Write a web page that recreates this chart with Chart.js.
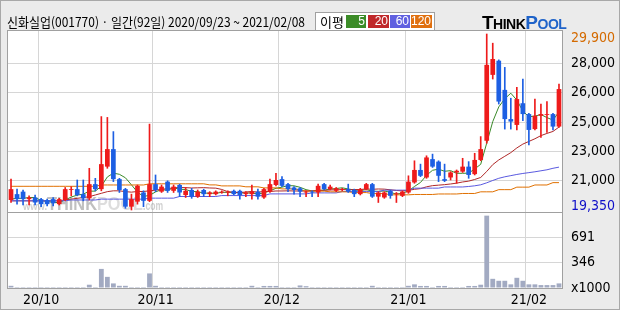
<!DOCTYPE html>
<html>
<head>
<meta charset="utf-8">
<script src="https://cdn.jsdelivr.net/npm/chart.js@4.4.0/dist/chart.umd.min.js"></script>
<style>
  html, body { margin: 0; padding: 0; }
  body { width: 620px; height: 310px; background: #ebebeb; position: relative; overflow: hidden;
         font-family: "Noto Sans CJK KR", sans-serif; }
  #frame { position: absolute; left: 0; top: 0; width: 618px; height: 308px; border: 1px solid #a8a8a8; pointer-events: none; }
  #chart { position: absolute; left: 0; top: 0; }
  #title { position: absolute; left: 7px; top: 14px; font-size: 13px; line-height: 15px; white-space: nowrap;
           transform: scaleX(0.92); transform-origin: 0 0; color: #000; }
  #legend { position: absolute; left: 315px; top: 12px; width: 118px; height: 17px; background: #fff;
            border: 1px solid #a0a0a0; }
  #legend .lbl { position: absolute; left: 4px; top: 0; font-size: 13px; line-height: 17px; }
  #legend .ma { position: absolute; top: 2px; height: 13px; color: #fff; font-family: "Liberation Sans", sans-serif;
                font-size: 12px; line-height: 13px; text-align: right; padding-right: 1px; box-sizing: border-box; }
  #logo { position: absolute; left: 482px; top: 12px; font-family: "Liberation Sans", Arial, sans-serif;
          font-weight: 900; white-space: nowrap; letter-spacing: -0.5px; }
  #logo .big { font-size: 19px; }
  #logo .small { font-size: 14px; }
  #logo .pool { color: #1f63c9; }
</style>
</head>
<body>
<canvas id="chart" width="620" height="310"></canvas>
<div id="title">신화실업(001770) · 일간(92일) 2020/09/23 ~ 2021/02/08</div>
<div id="legend">
  <span class="lbl">이평</span>
  <span class="ma" style="left:30px;width:20px;background:#3c8c28">5</span>
  <span class="ma" style="left:52px;width:21px;background:#c0282a">20</span>
  <span class="ma" style="left:74px;width:20px;background:#6060e0">60</span>
  <span class="ma" style="left:95px;width:21px;background:#e07010">120</span>
</div>
<div id="logo"><span class="big">T</span><span class="small">HINK</span><span class="pool"><span class="big">P</span><span class="small">OOL</span></span></div>
<div id="frame"></div>
<script>
// trading days shown on the chart
const dates = [
  '2020/09/23','2020/09/24','2020/09/25','2020/09/28','2020/09/29',
  '2020/10/05','2020/10/06','2020/10/07','2020/10/08','2020/10/12','2020/10/13','2020/10/14','2020/10/15','2020/10/16',
  '2020/10/19','2020/10/20','2020/10/21','2020/10/22','2020/10/23','2020/10/26','2020/10/27','2020/10/28','2020/10/29','2020/10/30',
  '2020/11/02','2020/11/03','2020/11/04','2020/11/05','2020/11/06','2020/11/09','2020/11/10','2020/11/11','2020/11/12','2020/11/13',
  '2020/11/16','2020/11/17','2020/11/18','2020/11/19','2020/11/20','2020/11/23','2020/11/24','2020/11/25','2020/11/26','2020/11/27','2020/11/30',
  '2020/12/01','2020/12/02','2020/12/03','2020/12/04','2020/12/07','2020/12/08','2020/12/09','2020/12/10','2020/12/11',
  '2020/12/14','2020/12/15','2020/12/16','2020/12/17','2020/12/18','2020/12/21','2020/12/22','2020/12/23','2020/12/24','2020/12/28','2020/12/29','2020/12/30',
  '2021/01/04','2021/01/05','2021/01/06','2021/01/07','2021/01/08','2021/01/11','2021/01/12','2021/01/13','2021/01/14','2021/01/15',
  '2021/01/18','2021/01/19','2021/01/20','2021/01/21','2021/01/22','2021/01/25','2021/01/26','2021/01/27','2021/01/28','2021/01/29',
  '2021/02/01','2021/02/02','2021/02/03','2021/02/04','2021/02/05','2021/02/08'
];

const openP = [19950,20300,20450,20000,20100,20000,19950,20000,19700,19950,
  20550,20600,20300,20050,20900,20600,21950,23000,21200,20600,
  19550,19850,20400,19900,20900,20450,21050,20500,20850,20250,
  20550,20150,20550,20300,20300,20400,20400,20500,20500,20300,
  20300,20450,20100,20450,20850,21200,20900,20700,20650,20400,
  20450,20400,20900,20600,20500,20550,20600,20550,20300,20600,
  20900,20150,20100,20500,20300,20200,20400,21000,21750,21300,
  22400,22250,21200,21300,21600,21650,21950,21500,22350,23500,
  27450,28300,26550,24800,24450,25750,25100,24200,25000,25050,
  25100,24350];
const highP = [21200,20600,20550,20200,20250,20050,20000,20100,20050,20700,
  20750,21150,21150,21850,21250,24950,24900,24050,21250,20650,
  20300,20850,20500,24500,21450,20850,21100,20850,20900,20700,
  20650,20550,20600,20450,20500,20500,20500,20550,20550,20450,
  20850,20600,20650,21200,21550,21350,20950,20750,20700,20500,
  20500,20900,20950,20850,20700,20650,20900,20600,20650,20950,
  20950,20450,20450,20550,20400,20500,21400,22300,22100,22600,
  22700,22300,22100,21650,21750,22450,22250,22750,23750,29900,
  29350,28350,27900,26050,26700,27200,25150,26000,25700,25850,
  25150,26900];
const lowP = [19800,19700,19650,19650,19650,19550,19600,19600,19650,19900,
  20200,20200,19900,19950,20500,20500,21850,21050,20400,19450,
  19350,19700,19550,19850,20450,20400,20400,20400,20150,20100,
  20050,20100,20150,20150,20250,20350,20200,20250,20000,20150,
  20000,20000,20050,20400,20800,20750,20450,20300,20150,20150,
  20150,20150,20550,20550,20450,20500,20400,20150,20250,20550,
  20100,19800,20050,20050,19800,20150,20350,20950,21350,21250,
  21900,21050,21050,21150,20950,21600,21250,21450,22300,23350,
  27200,25700,24200,24200,24150,24700,23250,24150,23700,24000,
  24150,24300];
const closeP = [20600,20000,20000,20100,19800,19700,19700,19750,20000,20600,
  20600,20250,20050,20900,20600,22100,23000,21200,20550,19550,
  20000,20800,19900,20900,20550,20750,20500,20750,20400,20500,
  20150,20450,20300,20400,20450,20450,20450,20300,20250,20400,
  20450,20150,20600,20900,21150,20800,20600,20550,20450,20450,
  20400,20800,20600,20750,20650,20600,20450,20300,20600,20900,
  20150,20400,20400,20200,20350,20450,21050,21750,21400,22500,
  21950,21400,21100,21600,21700,21950,21450,22350,23000,28050,
  28400,25850,24800,24650,26000,25100,24150,25000,25100,25100,
  24350,26600];

// volume, in thousands of shares
const volume = [30,13,13,13,13,13,13,13,13,13,
  13,13,13,45,13,262,153,63,30,30,
  13,13,13,200,30,13,13,13,13,13,
  13,13,13,13,13,13,13,13,13,13,
  30,13,28,28,28,13,13,13,35,25,
  13,13,13,13,13,13,13,13,13,13,
  30,13,13,13,13,13,30,50,28,28,
  13,28,28,13,13,13,28,28,45,993,
  126,99,99,50,140,99,50,50,40,40,
  40,63];

// moving averages
const ma5 = [20000,20050,20050,20100,20100,19920,19860,19810,19790,19950,
  20130,20240,20300,20480,20480,20780,21330,21560,21490,21280,
  20860,20420,20160,20230,20430,20580,20520,20690,20590,20580,
  20460,20450,20360,20360,20350,20410,20410,20410,20380,20370,
  20370,20310,20370,20500,20650,20720,20810,20800,20710,20570,
  20490,20530,20540,20600,20640,20680,20610,20550,20520,20570,
  20480,20470,20490,20410,20300,20360,20490,20760,21000,21430,
  21730,21800,21670,21710,21550,21550,21560,21810,22090,23360,
  24650,25530,26020,26350,25940,25280,24940,24980,25070,24890,
  24740,25230];
const ma20 = [19900,19900,19900,19900,19900,19900,19900,19900,19900,19950,
  20000,20050,20100,20150,20250,20350,20450,20500,20500,20450,
  20420,20460,20460,20500,20540,20590,20630,20680,20700,20690,
  20670,20680,20690,20670,20660,20580,20450,20410,20390,20430,
  20460,20420,20460,20460,20490,20490,20500,20490,20490,20490,
  20500,20520,20530,20550,20560,20570,20570,20570,20580,20610,
  20590,20610,20600,20560,20520,20500,20530,20590,20630,20740,
  20810,20840,20870,20910,20960,21030,21080,21180,21300,21660,
  22070,22350,22570,22790,23070,23300,23460,23620,23810,23940,
  24060,24320];
const ma60 = [19900,19900,19900,19900,19900,19900,19900,19900,19900,19900,
  19950,19950,19950,19950,19950,20000,20000,20000,20000,20000,
  20000,20000,20000,20060,20060,20060,20060,20060,20160,20160,
  20160,20160,20160,20160,20160,20215,20215,20215,20215,20215,
  20215,20215,20215,20315,20315,20315,20315,20315,20315,20315,
  20375,20375,20375,20375,20375,20455,20455,20455,20455,20455,
  20455,20455,20540,20540,20540,20540,20540,20660,20660,20660,
  20660,20660,20730,20730,20730,20730,20760,20800,20860,20980,
  21120,21250,21340,21410,21480,21540,21590,21640,21700,21760,
  21850,21920];
const ma120 = [20770,20770,20770,20770,20770,20770,20770,20770,20770,20770,
  20770,20770,20770,20770,20770,20850,20850,20850,20850,20850,
  20850,20850,20850,20920,20920,20920,20920,20920,20920,20920,
  20920,20920,20920,20855,20855,20795,20795,20795,20795,20740,
  20740,20740,20675,20675,20675,20615,20615,20615,20556,20480,
  20480,20480,20480,20440,20440,20440,20440,20395,20395,20395,
  20335,20335,20335,20260,20260,20260,20260,20280,20280,20280,
  20280,20310,20310,20310,20310,20340,20340,20340,20440,20440,
  20440,20570,20570,20570,20720,20720,20720,20850,20850,20850,
  20990,20990];

// axis ticks
const priceHigh = 29900;
const priceLow = 19350;
const priceTicks = [21108, 22867, 24625, 26383, 28142];
const priceTickLabels = ['21,000', '23,000', '25,000', '26,000', '28,000'];
const volumeTicks = [0, 346, 691];
const volumeTickLabels = ['x1000', '346', '691'];

const UP = '#ee1b1b';
const DOWN = '#1d5fe3';
const GRID = '#d6d6d6';
const axisFont = { family: "'Liberation Sans Narrow', 'DejaVu Sans Condensed', sans-serif", size: 14 };

const candleColors = closeP.map((c, i) => c >= openP[i] ? UP : DOWN);
const isMonthStart = i => i > 0 && i < dates.length && dates[i].slice(0, 7) !== dates[i - 1].slice(0, 7);

function fmt(v) {
    return v.toLocaleString('en-US');
}

const panelPlugin = {
    id: 'panels',
    beforeDraw(chart) {
        const { ctx, chartArea: a } = chart;
        ctx.save();
        ctx.fillStyle = '#ffffff';
        ctx.fillRect(a.left, a.top, a.right - a.left, a.bottom - a.top);
        ctx.restore();
    },
    beforeDatasetsDraw(chart) {
        // faint site watermark in the lower left of the price panel
        const { ctx, scales } = chart;
        const base = scales.y.bottom - 2;
        ctx.save();
        ctx.textBaseline = 'alphabetic';
        ctx.fillStyle = 'rgba(150,150,150,0.45)';
        ctx.font = 'bold 11px "Liberation Sans", sans-serif';
        ctx.fillText('www.', 23, base, 24);
        ctx.fillStyle = 'rgba(130,130,130,0.5)';
        ctx.font = 'bold 19px "Liberation Sans", sans-serif';
        ctx.fillText('THINK', 47, base, 50);
        ctx.fillStyle = 'rgba(170,170,170,0.4)';
        ctx.fillText('POOL', 97, base, 46);
        ctx.fillStyle = 'rgba(150,150,150,0.45)';
        ctx.font = 'bold 12px "Liberation Sans", sans-serif';
        ctx.fillText('.com', 143, base, 20);
        ctx.restore();
    },
    afterDraw(chart) {
        const { ctx, chartArea: a, scales } = chart;
        ctx.save();
        ctx.strokeStyle = '#a0a0a0';
        ctx.lineWidth = 1;
        ctx.strokeRect(a.left - 0.5, a.top - 0.5, a.right - a.left + 1, a.bottom - a.top + 1);
        const sep = Math.round(scales.y.bottom) + 0.5;
        ctx.beginPath();
        ctx.moveTo(a.left, sep);
        ctx.lineTo(a.right, sep);
        ctx.stroke();

        // highest / lowest price markers on the price axis
        ctx.font = `${axisFont.size}px ${axisFont.family}`;
        ctx.textAlign = 'left';
        ctx.textBaseline = 'middle';
        ctx.fillStyle = '#d46a00';
        ctx.fillText(fmt(priceHigh), a.right + 9, scales.y.getPixelForValue(priceHigh) + 4);
        ctx.fillStyle = '#1010c8';
        ctx.fillText(fmt(priceLow), a.right + 9, scales.y.getPixelForValue(priceLow) - 4);
        ctx.restore();
    }
};

function maLine(data, color) {
    return {
        type: 'line',
        data: data,
        yAxisID: 'y',
        borderColor: color,
        borderWidth: 1,
        pointRadius: 0,
        tension: 0,
        order: 5
    };
}

new Chart(document.getElementById('chart'), {
    data: {
        labels: dates,
        datasets: [
            {
                type: 'bar',
                data: lowP.map((l, i) => [l, highP[i]]),
                yAxisID: 'y',
                backgroundColor: candleColors,
                barThickness: 1,
                grouped: false,
                order: 2
            },
            {
                type: 'bar',
                data: openP.map((o, i) => [o, closeP[i]]),
                yAxisID: 'y',
                backgroundColor: candleColors,
                barPercentage: 0.78,
                categoryPercentage: 1,
                grouped: false,
                order: 1
            },
            maLine(ma120, '#e07000'),
            maLine(ma60, '#5a5ae0'),
            maLine(ma20, '#b02828'),
            maLine(ma5, '#3a8a2a'),
            {
                type: 'bar',
                data: volume,
                yAxisID: 'yv',
                backgroundColor: '#a2aac2',
                barPercentage: 0.8,
                categoryPercentage: 1,
                grouped: false,
                order: 3
            }
        ]
    },
    options: {
        responsive: false,
        animation: false,
        events: [],
        layout: { padding: { left: 8, top: 31, right: 0, bottom: 0 } },
        plugins: { legend: { display: false }, tooltip: { enabled: false } },
        scales: {
            x: {
                type: 'category',
                offset: true,
                border: { display: false },
                grid: {
                    offset: true,
                    drawTicks: false,
                    color: ctx => isMonthStart(ctx.index) ? GRID : 'rgba(0,0,0,0)'
                },
                ticks: {
                    autoSkip: false,
                    maxRotation: 0,
                    padding: 4,
                    color: '#000',
                    font: axisFont,
                    callback: (v, i) => isMonthStart(i) ? dates[i].slice(2, 7) : ''
                },
                afterFit: s => { s.height = 22; }
            },
            y: {
                type: 'linear',
                position: 'right',
                stack: 'panel',
                stackWeight: 181,
                min: 19230,
                max: 30080,
                border: { display: false },
                grid: { color: GRID, drawTicks: false },
                afterBuildTicks: s => { s.ticks = priceTicks.map(v => ({ value: v })); },
                ticks: {
                    padding: 9,
                    color: '#000',
                    font: axisFont,
                    callback: (v, i) => priceTickLabels[i]
                },
                afterFit: s => { s.width = 58; }
            },
            yv: {
                type: 'linear',
                position: 'right',
                stack: 'panel',
                stackWeight: 76,
                min: 0,
                max: 1043,
                border: { display: false },
                grid: {
                    drawTicks: false,
                    color: ctx => (ctx.tick && ctx.tick.value === 0) ? 'rgba(0,0,0,0)' : GRID
                },
                afterBuildTicks: s => { s.ticks = volumeTicks.map(v => ({ value: v })); },
                ticks: {
                    padding: 9,
                    color: '#000',
                    font: axisFont,
                    callback: (v, i) => volumeTickLabels[i]
                },
                afterFit: s => { s.width = 58; }
            }
        }
    },
    plugins: [panelPlugin]
});
</script>
</body>
</html>
